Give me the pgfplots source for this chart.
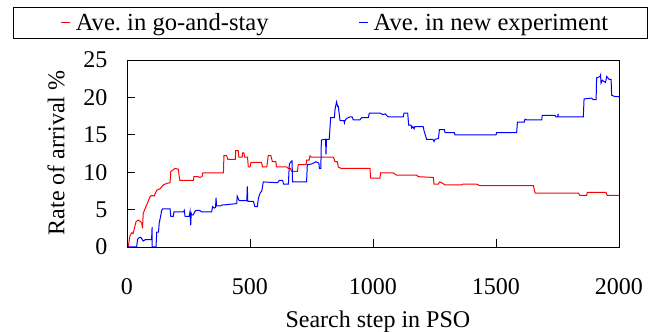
\documentclass[border=0pt]{standalone}
\usepackage{fontspec}
\setmainfont{Liberation Serif}
\usepackage{pgfplots}
\pgfplotsset{compat=1.18}
\begin{document}
\begin{tikzpicture}[font=\fontsize{24}{28}\selectfont]
\useasboundingbox (-127pt,-85pt) rectangle (527pt,247pt);
\begin{axis}[
  scale only axis,
  width=492pt, height=187pt,
  xmin=0, xmax=2000, ymin=0, ymax=25,
  xtick={0,500,1000,1500,2000},
  ytick={0,5,10,15,20,25},
  xtick pos=bottom, ytick pos=left,
  tick align=inside,
  major tick length=8pt,
  axis line style={line width=0.9pt},
  every tick/.style={line width=0.9pt, black},
  /pgf/number format/assume math mode=true,
  /pgf/number format/1000 sep={},
  xticklabel style={yshift=-28pt},
  yticklabel style={xshift=-16pt},
  xlabel={Search step in PSO},
  ylabel={Rate of arrival \%},
  xlabel style={at={(axis description cs:0.51,0)}, anchor=base, yshift=-81pt},
  ylabel style={at={(axis description cs:-0.1443,0.503)}, anchor=center},
  legend columns=2,
  legend cell align=left,
  legend style={at={(0.4136,1.198)}, anchor=center, draw=black, line width=0.7pt,
    font=\fontsize{24.6}{28}\selectfont,
    inner xsep=37pt, inner ysep=4.5pt,
    /tikz/every even column/.append style={column sep=78pt}},
  legend image code/.code={\path[draw=none] (0pt,0pt) -- (23pt,0pt); \draw[#1] (10pt,0pt) -- (19pt,0pt);},
]
\addplot[red, line width=1pt] coordinates {
(0,0) (5,0) (12,1.5) (19,1.9) (25,1.8) (30,2.5) (37,3.4) (46,3.6) (55,3.4) (60,3.2) (63,2.5) (66,4.5) (77,5.4) (85,6.0) (93,6.7) (100,6.9) (110,6.8) (121,7.6) (135,7.8) (148,8.3) (161,8.5) (175,8.6) (178,10.1) (195,10.5) (209,10.4) (212,9.5) (215,8.9) (270,8.9) (272,9.4) (290,9.4) (295,9.3) (305,9.4) (308,9.9) (392,9.9) (394,12.2) (405,12.2) (410,11.7) (440,11.7) (442,12.9) (452,12.9) (455,12.0) (468,12.0) (470,12.6) (475,12.6) (478,12.0) (490,12.0) (493,10.7) (500,10.7) (504,11.3) (547,11.3) (551,10.7) (568,10.7) (570,11.1) (574,12.2) (585,12.2) (591,11.4) (605,11.4) (608,10.7) (649,10.7) (656,10.5) (665,10.5) (669,10.1) (693,10.1) (696,11.0) (728,11.0) (730,11.6) (740,11.6) (744,12.2) (750,12.0) (839,12.0) (846,11.4) (855,11.4) (859,10.7) (870,10.5) (988,10.5) (990,9.2) (1028,9.2) (1031,9.9) (1083,9.9) (1096,9.6) (1178,9.6) (1184,9.4) (1245,9.3) (1248,8.4) (1266,8.4) (1270,8.7) (1279,8.6) (1293,8.3) (1361,8.3) (1365,8.4) (1421,8.4) (1435,8.2) (1652,8.2) (1659,7.2) (1835,7.2) (1841,6.9) (1869,6.9) (1871,7.3) (1947,7.3) (1952,6.9) (2000,6.9)
};
\addlegendentry{Ave.\ in go-and-stay}
\addplot[blue, line width=1pt] coordinates {
(0,0) (39,0) (43,1.0) (46,1.2) (56,1.3) (60,1.1) (66,0.8) (75,1.0) (100,1.0) (102,2.7) (102,0) (118,0) (121,2.0) (128,2.0) (131,3.2) (136,4.0) (141,4.9) (145,5.1) (175,5.1) (178,4.1) (188,4.1) (191,4.7) (230,4.7) (233,4.9) (236,4.1) (253,4.1) (256,4.7) (259,2.9) (261,4.5) (263,4.3) (270,4.3) (275,4.7) (280,4.9) (295,4.9) (303,4.7) (344,4.7) (348,5.4) (355,5.2) (360,5.3) (362,6.6) (364,5.5) (380,5.5) (385,5.6) (446,5.8) (448,6.8) (452,6.5) (456,6.2) (487,6.2) (489,8.1) (491,6.1) (514,6.1) (520,5.4) (530,5.4) (534,6.5) (541,7.2) (548,7.5) (554,8.7) (608,8.6) (612,8.6) (619,8.9) (633,8.9) (636,8.4) (656,8.4) (660,11.1) (669,11.5) (671,11.5) (673,8.7) (730,8.7) (733,11.0) (750,11.1) (768,11.4) (780,11.2) (782,10.5) (788,10.5) (790,14.3) (807,14.4) (809,12.4) (811,14.4) (822,14.4) (828,17.3) (843,17.3) (846,18.5) (852,19.4) (856,18.8) (859,18.8) (866,16.9) (882,16.9) (884,16.6) (886,16.9) (893,17.2) (907,17.4) (915,17.4) (920,17.0) (947,17.0) (954,17.3) (981,17.3) (985,17.9) (1028,17.9) (1040,17.7) (1050,17.8) (1055,17.6) (1062,17.4) (1123,17.4) (1126,17.9) (1141,17.9) (1145,16.3) (1155,16.3) (1157,15.9) (1162,16.1) (1167,15.8) (1170,16.1) (1204,16.1) (1207,15.6) (1218,14.4) (1243,14.4) (1248,14.1) (1252,14.4) (1266,14.5) (1270,15.7) (1290,15.7) (1293,15.3) (1330,15.3) (1333,15.0) (1500,15.0) (1503,15.3) (1584,15.3) (1587,16.7) (1615,16.7) (1618,17.1) (1625,17.0) (1686,17.0) (1688,17.6) (1740,17.6) (1743,17.4) (1751,17.4) (1752,17.8) (1753,17.4) (1855,17.4) (1858,19.8) (1889,19.9) (1895,19.7) (1907,19.7) (1909,22.6) (1923,22.8) (1925,23.0) (1927,21.9) (1932,22.3) (1940,22.1) (1945,22.0) (1950,22.8) (1960,22.4) (1968,22.4) (1970,20.3) (1984,20.1) (2000,20.1)
};
\addlegendentry{Ave.\ in new experiment}
\end{axis}
\end{tikzpicture}
\end{document}
